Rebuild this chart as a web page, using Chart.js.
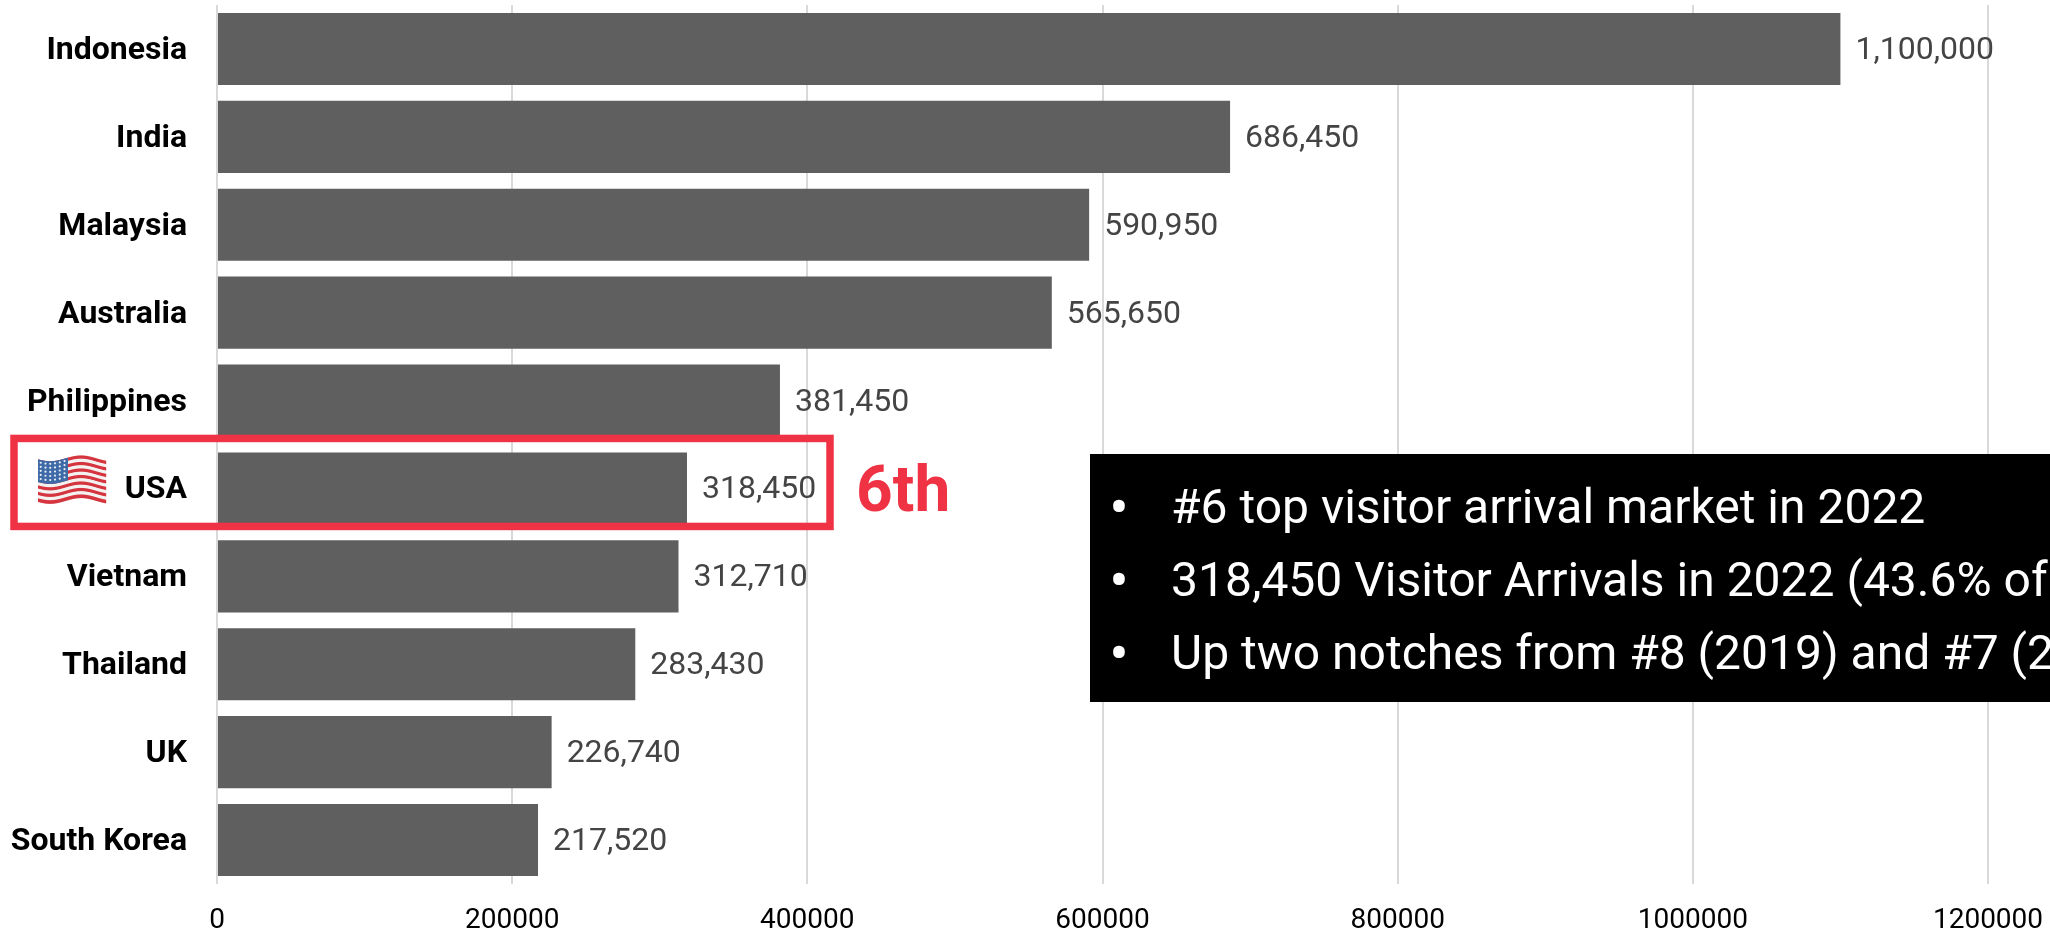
<!DOCTYPE html>
<html>
<head>
<meta charset="utf-8">
<title>Visitor arrivals 2022</title>
<script src="https://cdn.jsdelivr.net/npm/chart.js@4"></script>
<style>
  html, body { margin: 0; padding: 0; background: #fff; overflow: hidden; }
  canvas { display: block; }
</style>
</head>
<body>
<canvas id="arrivalsChart" width="2050" height="932"></canvas>
<script>
const countries = ['Indonesia', 'India', 'Malaysia', 'Australia', 'Philippines', 'USA', 'Vietnam', 'Thailand', 'UK', 'South Korea'];
const arrivals = [1100000, 686450, 590950, 565650, 381450, 318450, 312710, 283430, 226740, 217520];
const axisTicks = [0, 200000, 400000, 600000, 800000, 1000000, 1200000];
const notes = [
    '#6 top visitor arrival market in 2022',
    '318,450 Visitor Arrivals in 2022 (43.6% of 2019 arrivals)',
    'Up two notches from #8 (2019) and #7 (2018)',
];
const highlight = 'USA';
const rankText = '6th';

const RED = '#ef3345';
const FONT = 'Roboto';

// small waving US flag next to the highlighted label
function drawFlag(ctx, x, y, w, h) {
    const wave = (px) => Math.sin(px / w * Math.PI * 2.2 + 0.4) * h * 0.06;
    const stripe = h * 0.88 / 13;
    for (let px = 0; px < w; px++) {
        const off = y + h * 0.06 + wave(px);
        for (let s = 0; s < 13; s++) {
            ctx.fillStyle = s % 2 ? '#f4f1f1' : '#d5353f';
            ctx.fillRect(x + px, off + s * stripe, 1.2, stripe + 0.4);
        }
        if (px < w * 0.44) {
            ctx.fillStyle = '#3f6aa8';
            ctx.fillRect(x + px, off, 1.2, stripe * 7);
        }
    }
    ctx.fillStyle = '#e8eef6';
    for (let c = 0; c < 6; c++) {
        for (let r = 0; r < 5; r++) {
            const sx = w * 0.04 + c * w * 0.07;
            ctx.beginPath();
            ctx.arc(x + sx, y + h * 0.06 + wave(sx) + stripe * (0.8 + r * 1.25), 1.1, 0, Math.PI * 2);
            ctx.fill();
        }
    }
}

const valueLabels = {
    id: 'valueLabels',
    afterDatasetsDraw(chart) {
        const ctx = chart.ctx;
        const bars = chart.getDatasetMeta(0).data;
        ctx.save();
        ctx.font = `32px ${FONT}`;
        ctx.fillStyle = '#444444';
        ctx.textAlign = 'left';
        ctx.textBaseline = 'middle';
        bars.forEach((bar, i) => {
            ctx.fillText(arrivals[i].toLocaleString('en-US'), bar.x + 15, bar.y + 2);
        });
        ctx.restore();
    }
};

const callouts = {
    id: 'callouts',
    afterDraw(chart) {
        const ctx = chart.ctx;
        const yScale = chart.scales.y;
        const cy = yScale.getPixelForValue(countries.indexOf(highlight));
        ctx.save();

        // red frame round the highlighted row
        ctx.strokeStyle = RED;
        ctx.lineWidth = 7.5;
        ctx.strokeRect(14, cy - 50, 816, 88);
        ctx.fillStyle = RED;
        ctx.font = `bold 64px ${FONT}`;
        ctx.textAlign = 'left';
        ctx.textBaseline = 'alphabetic';
        ctx.fillText(rankText, 856, cy + 23);

        drawFlag(ctx, 38, cy - 33, 68, 48);

        // black notes panel running off the right edge
        ctx.fillStyle = '#000000';
        ctx.fillRect(1090, 454, 960, 248);
        ctx.fillStyle = '#ffffff';
        ctx.font = `48px ${FONT}`;
        notes.forEach((line, i) => {
            ctx.fillText(line, 1171, 523 + i * 73);
        });
        ctx.font = `58px ${FONT}`;
        ctx.textAlign = 'center';
        notes.forEach((line, i) => {
            ctx.fillText('•', 1119, 527 + i * 73);
        });
        ctx.restore();
    }
};

// nudges the category labels down so they sit on the bar centres
const labelNudge = {
    id: 'labelNudge',
    afterLayout(chart) {
        chart.scales.y.getLabelItems().forEach(item => { item.options.translation[1] += 2; });
    }
};

// tick padding would otherwise be added to the axis margins and shrink the plot
function clearAxisPadding(axis) {
    axis.paddingTop = 0;
    axis.paddingBottom = 0;
    axis.paddingLeft = 0;
    axis.paddingRight = 0;
}

new Chart(document.getElementById('arrivalsChart'), {
    type: 'bar',
    data: {
        labels: countries,
        datasets: [{
            data: arrivals,
            backgroundColor: '#5f5f5f',
            categoryPercentage: 1,
            barPercentage: 0.82,
        }]
    },
    options: {
        indexAxis: 'y',
        responsive: false,
        animation: false,
        layout: { padding: { top: 5, right: 62, left: 0, bottom: 0 } },
        plugins: { legend: { display: false }, tooltip: { enabled: false } },
        scales: {
            x: {
                min: 0,
                max: 1200000,
                afterBuildTicks(axis) { axis.ticks = axisTicks.map(value => ({ value })); },
                afterFit(axis) { axis.height = 48; clearAxisPadding(axis); },
                grid: { color: '#d9d9d9', lineWidth: 2, drawTicks: false },
                border: { display: false },
                ticks: {
                    callback: value => String(value),
                    color: '#000000',
                    maxRotation: 0,
                    padding: 20,
                    font: { family: FONT, size: 28 },
                },
            },
            y: {
                afterFit(axis) { axis.width = 217; clearAxisPadding(axis); },
                grid: { display: false, drawTicks: false },
                border: { display: false },
                ticks: {
                    color: '#000000',
                    padding: 30,
                    font: { family: FONT, size: 32, weight: 'bold' },
                },
            },
        },
    },
    plugins: [labelNudge, valueLabels, callouts],
});
</script>
</body>
</html>
